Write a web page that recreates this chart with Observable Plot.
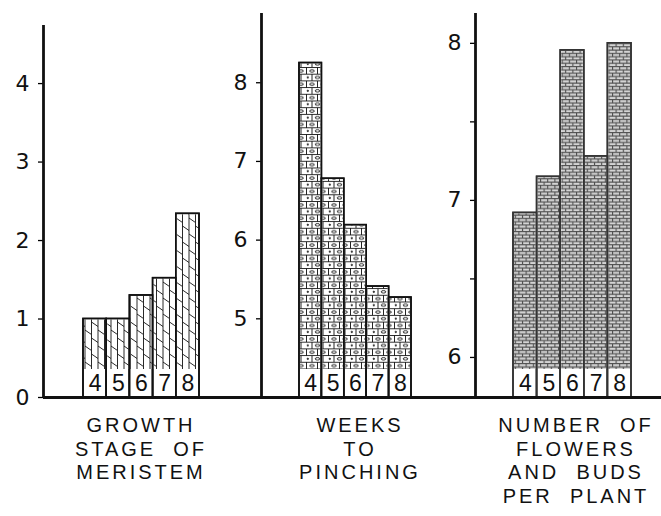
<!DOCTYPE html>
<html>
<head>
<meta charset="utf-8">
<script src="https://cdn.jsdelivr.net/npm/d3@7"></script>
<script src="https://cdn.jsdelivr.net/npm/@observablehq/plot@0.6"></script>
<style>
  html, body { margin: 0; padding: 0; background: white; }
  #wrap { position: relative; width: 661px; height: 516px; overflow: hidden; font-family: "Liberation Sans", Arial, sans-serif; }
  .cap { position: absolute; top: 414px; text-align: center; font-size: 20px; line-height: 23.5px; letter-spacing: 3px; color: #111; white-space: pre; }
</style>
</head>
<body>
<div id="wrap"></div>
<script>
// ---- data ----
const stages = [4, 5, 6, 7, 8];
const growthStage = [1.0, 1.0, 1.3, 1.52, 2.34];
const weeksToPinching = [8.25, 6.78, 6.19, 5.41, 5.27];
const flowersAndBuds = [6.92, 7.15, 7.955, 7.28, 8.0];
const ticksGrowth = [0, 1, 2, 3, 4];
const ticksWeeks = [5, 6, 7, 8];
const ticksFlowers = [6, 6.5, 7, 7.5, 8];
const captionGrowth = ["GROWTH", "STAGE  OF", "MERISTEM"];
const captionWeeks = ["WEEKS", "TO", "PINCHING"];
const captionFlowers = ["NUMBER  OF", "FLOWERS", "AND  BUDS", "PER  PLANT"];

const wrap = document.getElementById("wrap");
const FONT = "Liberation Sans, Arial, sans-serif";
const TICKFONT = "DejaVu Sans, sans-serif";

function panel({values, ticks, yDomain, xDomain, left, width, marginTop, fill, stroke, tickFormat}) {
  const rows = stages.map((s, i) => ({stage: s, v: values[i]}));
  const base = yDomain[0];
  const svg = Plot.plot({
    width, height: 400,
    marginLeft: 43, marginRight: 0, marginTop, marginBottom: 3,
    x: {domain: xDomain, axis: null},
    y: {domain: yDomain, label: null},
    marks: [
      Plot.rect(rows, {x1: d => d.stage - 0.5, x2: d => d.stage + 0.5, y1: base, y2: "v",
        fill: "white", stroke, strokeWidth: 1.6}),
      Plot.rect(rows, {x1: d => d.stage - 0.5, x2: d => d.stage + 0.5, y1: base, y2: "v",
        fill, insetBottom: 28, insetLeft: 1, insetRight: 1, insetTop: 1}),
      Plot.rect(rows, {x1: d => d.stage - 0.5, x2: d => d.stage + 0.5, y1: base, y2: "v",
        fill: "none", stroke, strokeWidth: 1.6}),
      Plot.text(rows, {x: "stage", y: base, text: d => String(d.stage), dy: -14,
        fontSize: 23, fontFamily: FONT, fill: "#111", lineAnchor: "middle"}),
      Plot.axisY({ticks, tickSize: 5, tickPadding: 9, fontSize: 22, fontFamily: TICKFONT,
        strokeWidth: 1.3, label: null, tickFormat: tickFormat || (d => String(d)), fill: "#111"}),
      Plot.ruleX([xDomain[0]], {y1: yDomain[0], y2: yDomain[1], strokeWidth: 2.8, stroke: "#111"}),
      Plot.ruleY([base], {strokeWidth: 3, stroke: "#111"})
    ]
  });
  svg.style.position = "absolute";
  svg.style.left = left + "px";
  svg.style.top = "0px";
  svg.style.background = "transparent";
  svg.style.overflow = "visible";
  svg.style.maxWidth = "none";
  return svg;
}

const s1 = panel({values: growthStage, ticks: ticksGrowth, yDomain: [0, 4.74], xDomain: [1.776, 11.172],
  left: 0, width: 261, marginTop: 25, fill: "url(#patGrowth)", stroke: "#111"});
const s2 = panel({values: weeksToPinching, ticks: ticksWeeks, yDomain: [4.0, 8.88], xDomain: [1.804, 11.357],
  left: 218, width: 257, marginTop: 13, fill: "url(#patWeeks)", stroke: "#111"});
const s3 = panel({values: flowersAndBuds, ticks: ticksFlowers, yDomain: [5.745, 8.19], xDomain: [1.890, 9.771],
  left: 432, width: 229, marginTop: 13, fill: "url(#patFlowers)", stroke: "#333",
  tickFormat: d => Number.isInteger(d) ? String(d) : ""});

wrap.appendChild(s1);
wrap.appendChild(s2);
wrap.appendChild(s3);

// ---- fill patterns ----
const defs = d3.select(s1).insert("defs", ":first-child");
// growth stage: vertical lines with slanted dashes
const p1 = defs.append("pattern").attr("id", "patGrowth").attr("patternUnits", "userSpaceOnUse")
  .attr("width", 13).attr("height", 16);
p1.append("rect").attr("width", 13).attr("height", 16).attr("fill", "white");
const g1 = p1.append("g").attr("stroke", "#111").attr("stroke-width", 0.9);
g1.append("line").attr("x1", 0.5).attr("x2", 0.5).attr("y1", 0).attr("y2", 16);
g1.append("line").attr("x1", 7).attr("x2", 7).attr("y1", 0).attr("y2", 16);
g1.append("line").attr("x1", 0.5).attr("y1", 2).attr("x2", 7).attr("y2", 6.5);
g1.append("line").attr("x1", 7).attr("y1", 10).attr("x2", 13).attr("y2", 14.2);

// weeks: bricks with small ovals
const p2 = defs.append("pattern").attr("id", "patWeeks").attr("patternUnits", "userSpaceOnUse")
  .attr("width", 22).attr("height", 13.4);
p2.append("rect").attr("width", 22).attr("height", 13.4).attr("fill", "white");
const g2 = p2.append("g").attr("stroke", "#111").attr("stroke-width", 0.9).attr("fill", "none");
g2.append("line").attr("x1", 0).attr("x2", 22).attr("y1", 0.5).attr("y2", 0.5);
g2.append("line").attr("x1", 0).attr("x2", 22).attr("y1", 7.2).attr("y2", 7.2);
g2.append("line").attr("x1", 0.5).attr("x2", 0.5).attr("y1", 0.5).attr("y2", 7.2);
g2.append("line").attr("x1", 11.5).attr("x2", 11.5).attr("y1", 0.5).attr("y2", 7.2);
g2.append("line").attr("x1", 6).attr("x2", 6).attr("y1", 7.2).attr("y2", 13.4);
g2.append("line").attr("x1", 17).attr("x2", 17).attr("y1", 7.2).attr("y2", 13.4);
g2.append("ellipse").attr("cx", 6).attr("cy", 3.9).attr("rx", 2.3).attr("ry", 1.2);
g2.append("ellipse").attr("cx", 17).attr("cy", 3.9).attr("rx", 2.3).attr("ry", 1.2);
g2.append("ellipse").attr("cx", 11.5).attr("cy", 10.4).attr("rx", 2.3).attr("ry", 1.2);
g2.append("circle").attr("cx", 1.8).attr("cy", 10.4).attr("r", 0.7).attr("fill", "#111");

// flowers: dense grey bricks
const p3 = defs.append("pattern").attr("id", "patFlowers").attr("patternUnits", "userSpaceOnUse")
  .attr("width", 7.2).attr("height", 6.6);
p3.append("rect").attr("width", 7.2).attr("height", 6.6).attr("fill", "#d4d4d4");
const g3 = p3.append("g").attr("stroke", "#4a4a4a").attr("stroke-width", 1.1);
g3.append("line").attr("x1", 0).attr("x2", 7.2).attr("y1", 0.6).attr("y2", 0.6);
g3.append("line").attr("x1", 0).attr("x2", 7.2).attr("y1", 3.9).attr("y2", 3.9);
g3.append("line").attr("x1", 0.5).attr("x2", 0.5).attr("y1", 0.6).attr("y2", 3.9);
g3.append("line").attr("x1", 4.1).attr("x2", 4.1).attr("y1", 3.9).attr("y2", 6.6);

// ---- captions under the panels ----
function caption(lines, cx) {
  const d = document.createElement("div");
  d.className = "cap";
  d.textContent = lines.join("\n");
  d.style.left = (cx - 120) + "px";
  d.style.width = "240px";
  wrap.appendChild(d);
}
caption(captionGrowth, 141);
caption(captionWeeks, 360);
caption(captionFlowers, 576);
</script>
</body>
</html>
